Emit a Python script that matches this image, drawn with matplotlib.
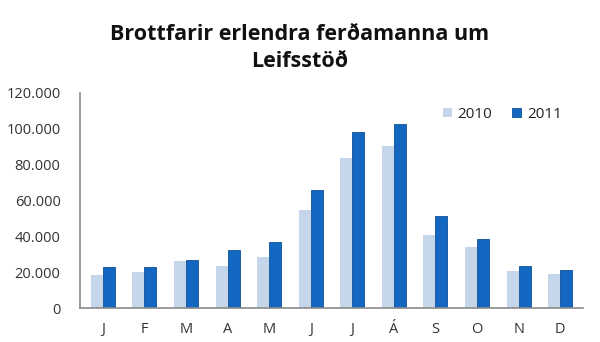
import matplotlib
matplotlib.use("Agg")
import matplotlib.pyplot as plt
import numpy as np
from matplotlib.ticker import FuncFormatter

months = ["J", "F", "M", "A", "M", "J", "J", "Á", "S", "O", "N", "D"]
y2010 = [18400, 20300, 26400, 23500, 28300, 54700, 83600, 90500, 40800, 33900, 20800, 19000]
y2011 = [22700, 22700, 26600, 32400, 37000, 65900, 98500, 102600, 51600, 38500, 23500, 21200]

plt.rcParams["font.family"] = ["Open Sans", "DejaVu Sans"]

fig = plt.figure(figsize=(6, 3.42), dpi=100)
ax = fig.add_axes([80 / 600, 1 - 308 / 342, 503 / 600, 215 / 342])

x = np.arange(len(months))
w = 0.29
ax.bar(x - w / 2, y2010, w, color="#c6d6ea", label="2010")
ax.bar(x + w / 2, y2011, w, color="#1467c0", edgecolor="#0c4f98", linewidth=0.6, label="2011")

ax.set_xlim(-0.55, len(months) - 0.45)
ax.set_ylim(0, 120000)
ax.set_yticks(np.arange(0, 120001, 20000))
ax.yaxis.set_major_formatter(FuncFormatter(lambda v, p: f"{int(v):,}".replace(",", ".")))
ax.set_xticks(x)
ax.set_xticklabels(months)
ax.tick_params(axis="both", length=0, labelsize=10.5, colors="#333333")
ax.tick_params(axis="y", pad=14)
ax.tick_params(axis="x", pad=10)

for s in ["top", "right"]:
    ax.spines[s].set_visible(False)
for s in ["left", "bottom"]:
    ax.spines[s].set_color("#8a8a8a")
    ax.spines[s].set_linewidth(1.2)

ax.legend(loc="upper right", bbox_to_anchor=(0.985, 1.0), frameon=False, ncol=2,
          fontsize=11, handlelength=0.6, handleheight=0.6, handletextpad=0.35,
          columnspacing=1.3, labelcolor="#222222")

fig.text(0.5, 0.86, "Brottfarir erlendra ferðamanna um\nLeifsstöð", ha="center", va="center",
         fontsize=15.5, fontweight="bold", color="#111111", linespacing=1.35)

fig.savefig("out.png", dpi=100)
